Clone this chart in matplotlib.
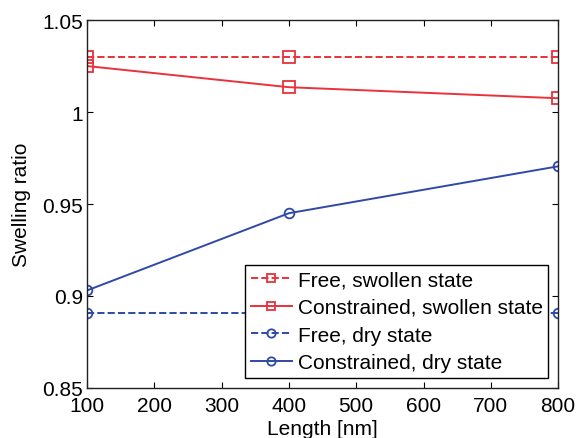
import matplotlib.pyplot as plt

plt.rcParams['font.family'] = ['Liberation Sans', 'DejaVu Sans']

length = [100, 400, 800]
free_swollen = [1.030, 1.030, 1.030]
constr_swollen = [1.025, 1.0135, 1.0075]
free_dry = [0.891, 0.891, 0.891]
constr_dry = [0.903, 0.945, 0.9705]

red = '#e8323c'
blue = '#2f4aa6'

fig = plt.figure(figsize=(5.76, 4.39), dpi=100)
ax = fig.add_axes([0.151, 0.114, 0.818, 0.838])

ax.plot(length, free_swollen, '--s', color=red, mfc='none', ms=8, mew=1.3, lw=1.4,
        label='Free, swollen state')
ax.plot(length, constr_swollen, '-s', color=red, mfc='none', ms=8, mew=1.3, lw=1.4,
        label='Constrained, swollen state')
ax.plot(length, free_dry, '--o', color=blue, mfc='none', ms=7, mew=1.3, lw=1.4,
        label='Free, dry state')
ax.plot(length, constr_dry, '-o', color=blue, mfc='none', ms=7, mew=1.3, lw=1.4,
        label='Constrained, dry state')

ax.set_xlim(100, 800)
ax.set_ylim(0.85, 1.05)
ax.set_xticks(range(100, 801, 100))
ax.set_yticks([0.85, 0.9, 0.95, 1.0, 1.05])
ax.set_yticklabels(['0.85', '0.9', '0.95', '1', '1.05'])
ax.tick_params(direction='in', top=True, right=True, length=4, labelsize=15)
ax.tick_params(axis='x', pad=6)
ax.tick_params(axis='y', pad=3)
for s in ax.spines.values():
    s.set_linewidth(1.0)
    s.set_color('#222222')

ax.set_xlabel('Length [nm]', fontsize=15, labelpad=3)
ax.set_ylabel('Swelling ratio', fontsize=15, labelpad=8)

leg = ax.legend(loc='lower right', fontsize=15, frameon=True, fancybox=False,
                edgecolor='black', framealpha=1, borderpad=0.25, labelspacing=0.42,
                handlelength=2.0, handletextpad=0.25, borderaxespad=0.5)
leg.get_frame().set_linewidth(1.0)
for h in leg.legend_handles:
    h.set_markersize(6)

fig.savefig('out.png', dpi=100)
